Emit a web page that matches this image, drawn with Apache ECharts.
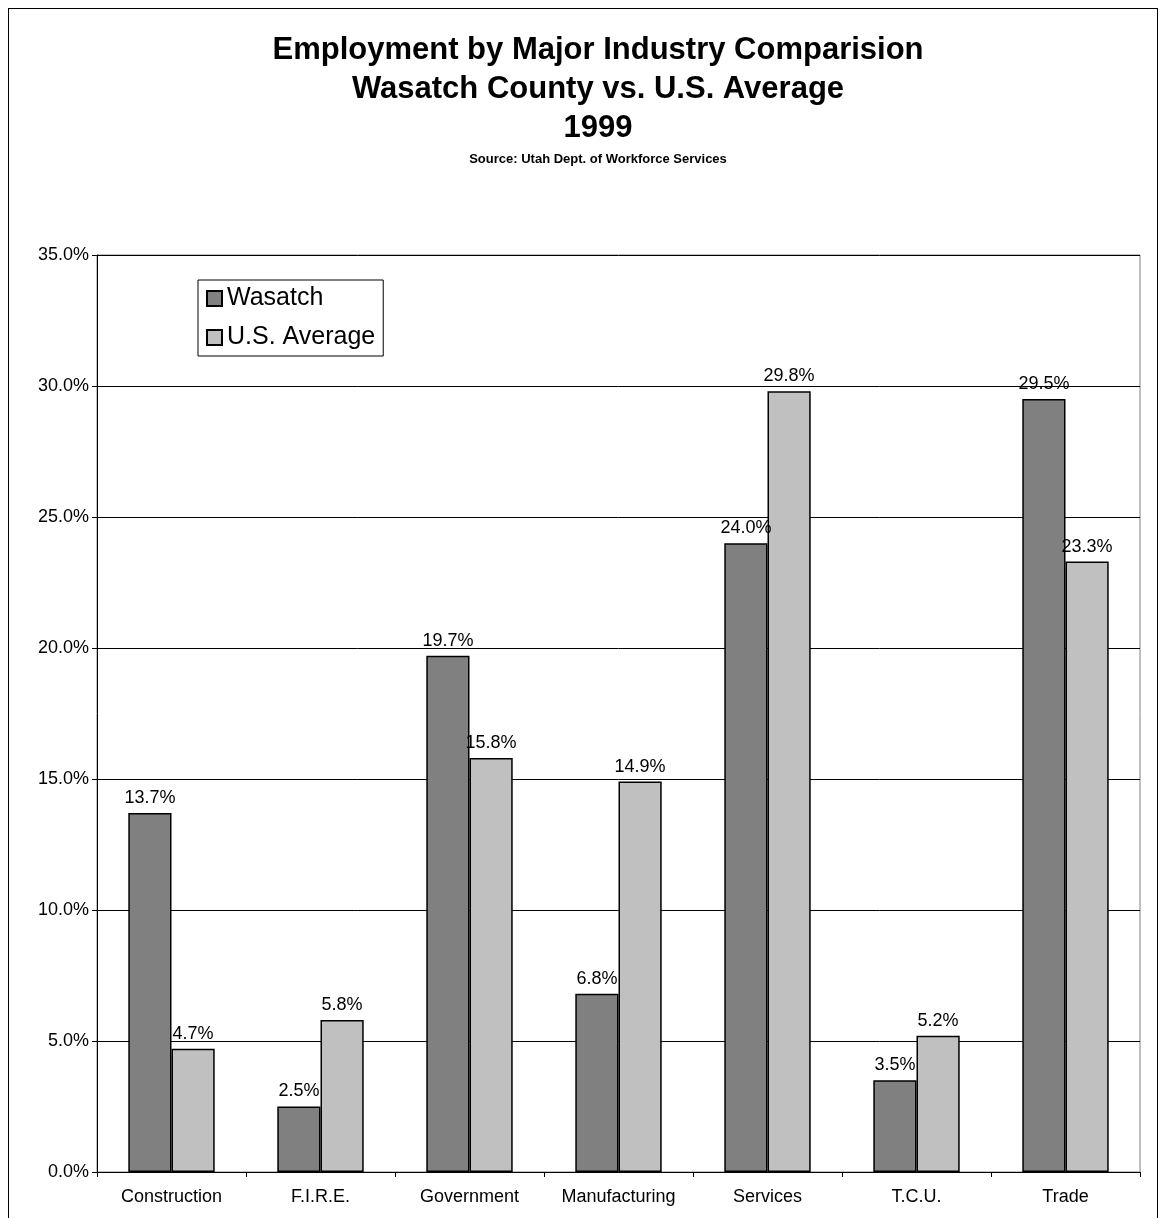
<!DOCTYPE html>
<html><head><meta charset="utf-8">
<script src="https://cdn.jsdelivr.net/npm/echarts@6/dist/echarts.min.js"></script>
<style>html,body{margin:0;padding:0;background:#fff}
#frame{position:absolute;left:8px;top:8px;width:1150px;height:1230px;border:1px solid #000;box-sizing:border-box}
#c{position:absolute;left:0;top:0;width:1160px;height:1218px}</style>
</head><body><div id="frame"></div><div id="c"></div>
<script>
const categories=["Construction","F.I.R.E.","Government","Manufacturing","Services","T.C.U.","Trade"];
const wasatch=[13.7,2.5,19.7,6.8,24.0,3.5,29.5];
const usAvg=[4.7,5.8,15.8,14.9,29.8,5.2,23.3];
const ch=echarts.init(document.getElementById('c'));
const lbl={show:true,position:'top',distance:6,color:'#000',fontSize:18,fontFamily:'Liberation Sans',formatter:p=>p.value.toFixed(1)+'%'};
ch.setOption({
 animation:false,
 title:[{text:'Employment by Major Industry Comparision\nWasatch County vs. U.S. Average\n1999',left:593,top:26,textAlign:'center',
   textStyle:{fontSize:31,fontWeight:'bold',fontFamily:'Liberation Sans',lineHeight:39,color:'#000',align:'center'}},
  {text:'Source: Utah Dept. of Workforce Services',left:593,textAlign:'center',top:148,textStyle:{fontSize:13,fontWeight:'bold',fontFamily:'Liberation Sans',color:'#000'}}],
 grid:{left:97,right:20,top:255,bottom:46,show:true,borderColor:'#808080',borderWidth:1},
 legend:{left:198,top:280,orient:'vertical',icon:'rect',itemWidth:15,itemHeight:15,itemGap:14,
   textStyle:{fontSize:25,fontFamily:'Liberation Sans',color:'#000'},
   backgroundColor:'#fff',borderColor:'#000',borderWidth:1,padding:[6,8,6,8]},
 xAxis:{type:'category',data:categories,axisTick:{show:true,alignWithLabel:false,lineStyle:{color:'#000'}},
   axisLine:{lineStyle:{color:'#000'}},axisLabel:{fontSize:18,fontFamily:'Liberation Sans',color:'#000',margin:16}},
 yAxis:{type:'value',min:0,max:35,interval:5,axisLine:{show:true,lineStyle:{color:'#000'}},axisTick:{show:true,lineStyle:{color:'#000'}},
   axisLabel:{fontSize:18,fontFamily:'Liberation Sans',color:'#000',formatter:v=>v.toFixed(1)+'%'},
   splitLine:{lineStyle:{color:'#000'}}},
 series:[
  {name:'Wasatch',type:'bar',data:wasatch,barGap:'0%',barCategoryGap:'42%',itemStyle:{color:'#808080',borderColor:'#000',borderWidth:1.5},label:lbl},
  {name:'U.S. Average',type:'bar',data:usAvg,itemStyle:{color:'#c0c0c0',borderColor:'#000',borderWidth:1.5},label:lbl}
 ]
});
</script></body></html>
